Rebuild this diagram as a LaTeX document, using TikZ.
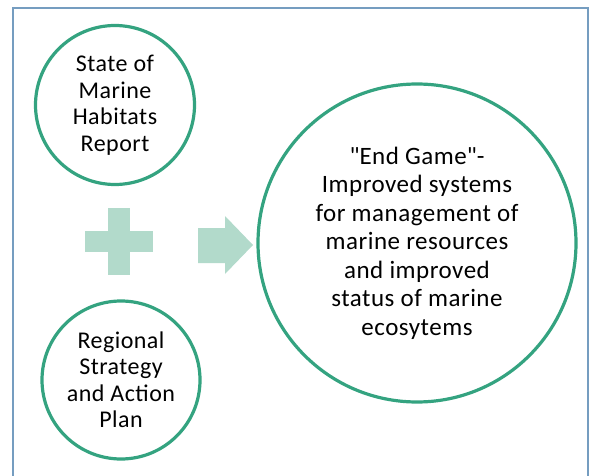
\documentclass[tikz,border=0pt]{standalone}
\usepackage{fontspec}
\setmainfont{Carlito}[LetterSpace=2]
\usepackage{tikz}
\definecolor{ringgreen}{RGB}{52,163,128}
\definecolor{palegreen}{RGB}{178,218,203}
\definecolor{frameblue}{RGB}{117,157,192}
\tikzset{
		ring/.style = {draw = ringgreen, line width = 3.2pt, circle, inner sep = 0pt, align = center,
			font = \fontsize{24}{26.5}\selectfont},
		big ring/.style = {ring, font = \fontsize{25}{28.5}\selectfont},
		sign/.style = {fill = palegreen, draw = none}
	}

\begin{document}
\begin{tikzpicture}[x = 1pt, y = -1pt]
				\useasboundingbox (0,0) rectangle (592,476);
				\draw[frameblue, line width = 1.8pt] (13,490) -- (13,8) -- (588,8) -- (588,490);

				\node[ring, minimum size = 159pt]     (report)  at (115,105) {State of\\Marine\\Habitats\\Report};
				\node[ring, minimum size = 158pt]     (plan)    at (121,380) {Regional\\Strategy\\and Action\\Plan};
				\node[big ring, minimum size = 318pt] (endgame) at (417,243)
					{\textquotedbl End Game\textquotedbl -\\Improved systems\\for management of\\marine resources\\and improved\\status of marine\\ecosytems};

				\fill[sign] (108,208) rectangle (130,275);
				\fill[sign] (85,231) rectangle (153,252);
				\fill[sign] (198,228) -- (225,228) -- (225,216) -- (253,245) -- (225,274) -- (225,263) -- (198,263) -- cycle;
			\end{tikzpicture}
\end{document}
